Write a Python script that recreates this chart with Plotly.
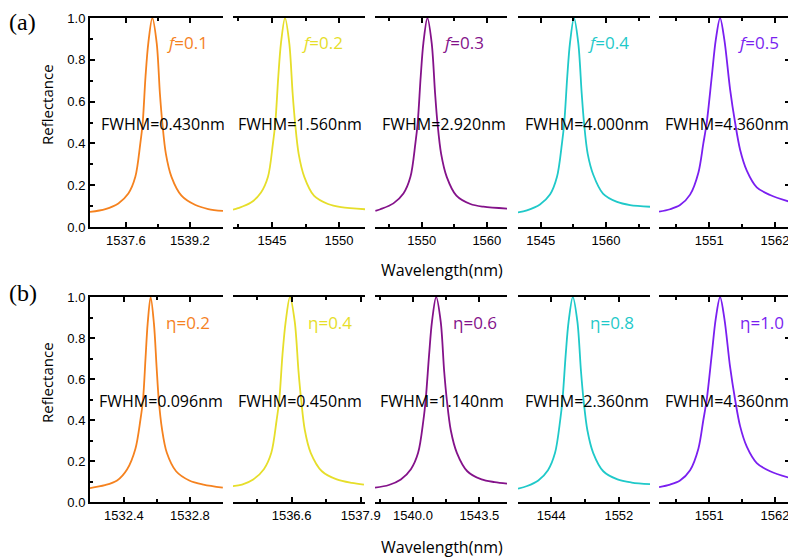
import plotly.graph_objects as go

# the page puts the figure 8 px in from the window's top-left corner
OFF = 8
W, H = 796 - OFF, 558 - OFF

# ---------------- data ----------------
# row (a): filling factor f
wl_a1 = [1536.70, 1537.085, 1537.41, 1537.66, 1537.835, 1537.96, 1538.02, 1538.09, 1538.16, 1538.26,
         1538.37, 1538.45, 1538.51, 1538.60, 1538.74, 1538.99, 1539.34, 1539.66, 1540.03]
r_a1 = [0.072, 0.086, 0.113, 0.16, 0.24, 0.40, 0.50, 0.72, 0.88, 1.0,
        0.88, 0.64, 0.50, 0.35, 0.24, 0.15, 0.105, 0.086, 0.077]

wl_a2 = [1542.09, 1542.46, 1543.43, 1544.18, 1544.70, 1545.07, 1545.25, 1545.47, 1545.67, 1545.97,
         1546.29, 1546.54, 1546.72, 1546.99, 1547.41, 1548.13, 1549.18, 1550.15, 1551.94]
r_a2 = [0.083, 0.09, 0.117, 0.165, 0.24, 0.40, 0.50, 0.72, 0.88, 1.0,
        0.88, 0.64, 0.50, 0.35, 0.24, 0.15, 0.11, 0.095, 0.085]

wl_a3 = [1542.86, 1543.63, 1545.63, 1547.17, 1548.25, 1549.01, 1549.37, 1549.83, 1550.24, 1550.86,
         1551.52, 1552.04, 1552.40, 1552.97, 1553.83, 1555.32, 1557.47, 1559.47, 1563.16]
r_a3 = [0.077, 0.085, 0.113, 0.16, 0.24, 0.40, 0.50, 0.72, 0.88, 1.0,
        0.88, 0.64, 0.50, 0.35, 0.24, 0.15, 0.11, 0.097, 0.088]

wl_a4 = [1539.79, 1541.85, 1544.84, 1547.14, 1548.75, 1549.89, 1550.42, 1551.11, 1551.73, 1552.65,
         1553.64, 1554.42, 1554.95, 1555.80, 1557.08, 1559.31, 1562.53, 1565.51, 1570.10]
r_a4 = [0.070, 0.080, 0.108, 0.155, 0.24, 0.40, 0.50, 0.72, 0.88, 1.0,
        0.88, 0.64, 0.50, 0.35, 0.25, 0.16, 0.12, 0.105, 0.097]

wl_a5 = [1542.59, 1544.43, 1546.10, 1547.78, 1549.17, 1550.00, 1550.57, 1551.41, 1552.08, 1552.80,
         1553.52, 1554.47, 1555.31, 1556.15, 1557.27, 1558.94, 1561.17, 1564.52]
r_a5 = [0.073, 0.085, 0.105, 0.155, 0.26, 0.40, 0.50, 0.72, 0.895, 1.0,
        0.895, 0.66, 0.50, 0.37, 0.27, 0.19, 0.153, 0.12]

# row (b): eta
wl_b1 = [1532.195, 1532.285, 1532.359, 1532.420, 1532.470, 1532.500, 1532.516, 1532.531, 1532.544, 1532.562,
         1532.582, 1532.598, 1532.611, 1532.630, 1532.660, 1532.716, 1532.796, 1532.882, 1532.999]
r_b1 = [0.068, 0.082, 0.105, 0.16, 0.26, 0.40, 0.50, 0.70, 0.87, 1.0,
        0.87, 0.66, 0.50, 0.36, 0.24, 0.15, 0.105, 0.085, 0.07]

wl_b2 = [1535.50, 1535.67, 1535.88, 1536.08, 1536.22, 1536.32, 1536.37, 1536.43, 1536.49, 1536.57,
         1536.66, 1536.73, 1536.78, 1536.85, 1536.96, 1537.17, 1537.45, 1537.73, 1537.96]
r_b2 = [0.077, 0.085, 0.11, 0.16, 0.24, 0.40, 0.50, 0.72, 0.88, 1.0,
        0.88, 0.64, 0.50, 0.35, 0.24, 0.15, 0.11, 0.093, 0.085]

wl_b3 = [1538.00, 1538.73, 1539.36, 1539.89, 1540.27, 1540.55, 1540.67, 1540.85, 1541.00, 1541.22,
         1541.46, 1541.64, 1541.78, 1541.99, 1542.31, 1542.86, 1543.61, 1544.30, 1544.95]
r_b3 = [0.07, 0.083, 0.11, 0.16, 0.24, 0.40, 0.50, 0.72, 0.88, 1.0,
        0.88, 0.64, 0.50, 0.35, 0.24, 0.15, 0.11, 0.097, 0.09]

wl_b4 = [1540.08, 1541.16, 1542.48, 1543.62, 1544.46, 1545.07, 1545.34, 1545.72, 1546.06, 1546.56,
         1547.10, 1547.52, 1547.82, 1548.28, 1548.96, 1550.16, 1551.84, 1553.52, 1555.68]
r_b4 = [0.065, 0.078, 0.105, 0.155, 0.24, 0.40, 0.50, 0.72, 0.88, 1.0,
        0.88, 0.64, 0.50, 0.35, 0.24, 0.15, 0.11, 0.095, 0.087]

wl_b5 = [1542.59, 1544.43, 1546.10, 1547.78, 1549.17, 1550.00, 1550.57, 1551.41, 1552.08, 1552.80,
         1553.52, 1554.47, 1555.31, 1556.15, 1557.27, 1558.94, 1561.17, 1564.52]
r_b5 = [0.073, 0.085, 0.105, 0.155, 0.26, 0.40, 0.50, 0.72, 0.895, 1.0,
        0.895, 0.66, 0.50, 0.37, 0.27, 0.19, 0.15, 0.117]

ranges_a = [[1536.70, 1540.03], [1542.09, 1551.94], [1542.8, 1563.1], [1539.8, 1570.1], [1542.58, 1564.5]]
ranges_b = [[1532.195, 1533.0], [1535.5, 1537.98], [1538.0, 1544.95], [1540.08, 1555.68], [1542.58, 1564.5]]

ticks_a = [[1537.6, 1539.2], [1545, 1550], [1550, 1560], [1545, 1560], [1551, 1562]]
ticks_b = [[1532.4, 1532.8], [1536.6, 1537.9], [1540.0, 1543.5], [1544, 1552], [1551, 1562]]
ticklabels_a = [["1537.6", "1539.2"], ["1545", "1550"], ["1550", "1560"], ["1545", "1560"], ["1551", "1562"]]
ticklabels_b = [["1532.4", "1532.8"], ["1536.6", "1537.9"], ["1540.0", "1543.5"], ["1544", "1552"], ["1551", "1562"]]
minor_a = [[1538.4], [1542.5, 1547.5], [1545, 1555], [1552.5, 1567.5], [1545.5, 1556.5]]
minor_b = [[1532.6], [1535.95, 1537.25], [1538.25, 1541.75], [1548], [1545.5, 1556.5]]

f_values = ["0.1", "0.2", "0.3", "0.4", "0.5"]
eta_values = ["0.2", "0.4", "0.6", "0.8", "1.0"]
fwhm_a = ["FWHM=0.430nm", "FWHM=1.560nm", "FWHM=2.920nm", "FWHM=4.000nm", "FWHM=4.360nm"]
fwhm_b = ["FWHM=0.096nm", "FWHM=0.450nm", "FWHM=1.140nm", "FWHM=2.360nm", "FWHM=4.360nm"]

colors = ["#F5821F", "#E6DE2A", "#84128A", "#1FC9C9", "#7A1FF0"]

wl_a = [wl_a1, wl_a2, wl_a3, wl_a4, wl_a5]
r_a = [r_a1, r_a2, r_a3, r_a4, r_a5]
wl_b = [wl_b1, wl_b2, wl_b3, wl_b4, wl_b5]
r_b = [r_b1, r_b2, r_b3, r_b4, r_b5]

# ---------------- layout geometry (window pixels) ----------------
cols_px = [(90, 223), (233, 365), (375, 507), (518, 650), (659, 790)]
rows_px = [(18, 227), (297, 502)]

def px(x):
    return (x - OFF) / W

def py(y):
    return 1 - (y - OFF) / H

TICK_FONT = dict(family="Liberation Sans Narrow, Arial Narrow, sans-serif", size=13, color="black")
TEXT_FONT = "Open Sans, Noto Sans, sans-serif"

fig = go.Figure()
layout = {}

rows = [(wl_a, r_a, ranges_a, ticks_a, ticklabels_a, minor_a),
        (wl_b, r_b, ranges_b, ticks_b, ticklabels_b, minor_b)]

n = 0
for ri, (wls, rs, rngs, tks, tkl, mnr) in enumerate(rows):
    top, bot = rows_px[ri]
    for ci in range(5):
        n += 1
        xa = "x" if n == 1 else f"x{n}"
        ya = "y" if n == 1 else f"y{n}"
        xkey = "xaxis" if n == 1 else f"xaxis{n}"
        ykey = "yaxis" if n == 1 else f"yaxis{n}"
        fig.add_trace(go.Scatter(
            x=wls[ci], y=rs[ci], mode="lines", xaxis=xa, yaxis=ya,
            line=dict(color=colors[ci], width=1.8, shape="spline", smoothing=0.9),
            showlegend=False, hoverinfo="skip"))
        l, r = cols_px[ci]
        layout[xkey] = dict(
            domain=[px(l), px(r)], anchor=ya, range=rngs[ci], automargin=False,
            tickmode="array", tickvals=tks[ci], ticktext=tkl[ci],
            ticks="inside", ticklen=5, tickwidth=1.5, tickcolor="black",
            minor=dict(tickvals=mnr[ci], ticks="inside", ticklen=3, tickwidth=1.5, tickcolor="black"),
            showline=True, linecolor="black", linewidth=2, mirror="ticks",
            showgrid=False, zeroline=False, tickfont=TICK_FONT)
        yax = dict(domain=[py(bot), py(top)], anchor=xa, range=[0, 1.0], automargin=False,
                   showgrid=False, zeroline=False)
        if ci == 0:
            yax.update(tickmode="array", tickvals=[0, 0.2, 0.4, 0.6, 0.8, 1.0],
                       ticktext=["0.0", "0.2", "0.4", "0.6", "0.8", "1.0"],
                       ticks="inside", ticklen=5, tickwidth=1.5, tickcolor="black",
                       minor=dict(tickvals=[0.1, 0.3, 0.5, 0.7, 0.9], ticks="inside",
                                  ticklen=3, tickwidth=1.5, tickcolor="black"),
                       showline=True, linecolor="black", linewidth=2, tickfont=TICK_FONT)
        elif ci == 4:
            yax.update(side="right", tickmode="array", tickvals=[0.2, 0.4, 0.6, 0.8],
                       ticks="inside", ticklen=5, tickwidth=1.5, tickcolor="black",
                       showticklabels=False, showline=True, linecolor="black", linewidth=2)
        else:
            yax.update(showline=False, showticklabels=False, ticks="")
        layout[ykey] = yax


def label(x, y, text, font, angle=0, xanchor="center", yanchor="middle"):
    return dict(x=px(x), y=py(y), xref="paper", yref="paper", text=text, showarrow=False,
                xanchor=xanchor, yanchor=yanchor, textangle=angle, font=font, borderpad=0)


annotations = []
f_x = [187, 322, 463, 608, 758]
eta_x = [188, 330, 475, 612, 762]
fwhm_xa = [163, 300, 444, 587, 727]
fwhm_xb = [161, 300, 442, 587, 727]
for ci in range(5):
    annotations.append(label(f_x[ci], 43, f"<i>f</i>={f_values[ci]}",
                             dict(family=TEXT_FONT, size=17, color=colors[ci])))
    annotations.append(label(eta_x[ci], 322, f"η={eta_values[ci]}",
                             dict(family=TEXT_FONT, size=17, color=colors[ci])))
    annotations.append(label(fwhm_xa[ci], 124, fwhm_a[ci],
                             dict(family=TEXT_FONT, size=16, color="black")))
    annotations.append(label(fwhm_xb[ci], 401, fwhm_b[ci],
                             dict(family=TEXT_FONT, size=16, color="black")))

for yc in (105, 383):
    annotations.append(label(47, yc, "Reflectance", dict(family=TEXT_FONT, size=15, color="black"), -90))
for yc in (270, 547):
    annotations.append(label(442, yc, "Wavelength(nm)", dict(family=TEXT_FONT, size=16, color="black")))
serif = dict(family="Liberation Serif, Times New Roman, serif", size=24, color="black")
annotations.append(label(OFF, OFF, "(a)", serif, xanchor="left", yanchor="top"))
annotations.append(label(OFF, 293, "(b)", serif, xanchor="left"))

fig.update_layout(
    width=W, height=H,
    margin=dict(l=0, r=0, t=0, b=0, autoexpand=False),
    paper_bgcolor="white", plot_bgcolor="white",
    annotations=annotations,
    **layout,
)

fig.write_html("out.html")
